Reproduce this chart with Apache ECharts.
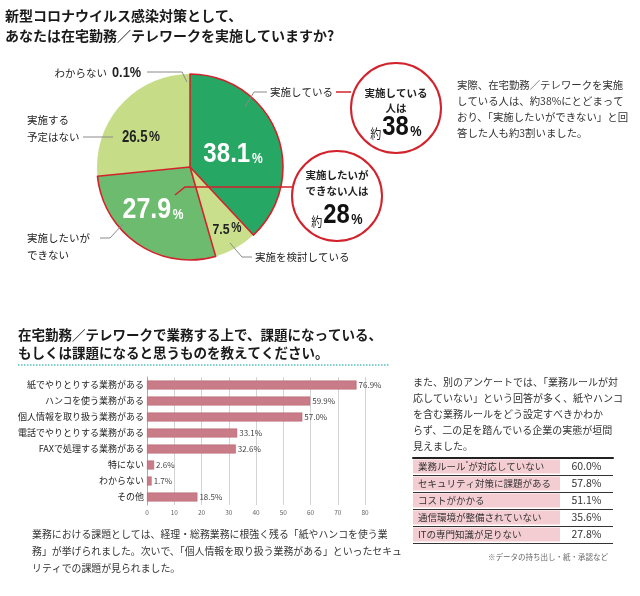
<!DOCTYPE html>
<html><head><meta charset="utf-8">
<script src="https://cdn.jsdelivr.net/npm/echarts@6/dist/echarts.min.js"></script>
<style>html,body{margin:0;padding:0;background:#fff}#c{width:640px;height:596px}</style>
</head><body><div id="c"></div>
<script>
// ---- data ----
const pieNames = ['実施している','実施を検討している','実施したいができない','実施する予定はない','わからない'];
const pieValues = [38.1, 7.5, 27.9, 26.5, 0.1];
const pieColors = ['#27a764','#cadf8c','#6dbb6f','#c6dc86','#eef3dc'];
const pieHighlighted = [true,false,true,false,false];

const barCategories = ['紙でやりとりする業務がある','ハンコを使う業務がある','個人情報を取り扱う業務がある','電話でやりとりする業務がある','FAXで処理する業務がある','特にない','わからない','その他'];
const barValues = [76.9, 59.9, 57.0, 33.1, 32.6, 2.6, 1.7, 18.5];
const barAxisTicks = [0,10,20,30,40,50,60,70,80];

const tableNames = ['業務ルール※が対応していない','セキュリティ対策に課題がある','コストがかかる','通信環境が整備されていない','ITの専門知識が足りない'];
const tableValues = [60.0, 57.8, 51.1, 35.6, 27.8];

const title1 = ['新型コロナウイルス感染対策として、','あなたは在宅勤務／テレワークを実施していますか?'];
const title2 = ['在宅勤務／テレワークで業務する上で、課題になっている、','もしくは課題になると思うものを教えてください。'];
const note1 = ['実際、在宅勤務／テレワークを実施','している人は、約38%にとどまって','おり、「実施したいができない」と回','答した人も約3割いました。'];
const note2 = ['また、別のアンケートでは、「業務ルールが対','応していない」という回答が多く、紙やハンコ','を含む業務ルールをどう設定すべきかわか','らず、二の足を踏んでいる企業の実態が垣間','見えました。'];
const note3 = ['業務における課題としては、経理・総務業務に根強く残る「紙やハンコを使う業','務」が挙げられました。次いで、「個人情報を取り扱う業務がある」といったセキュ','リティでの課題が見られました。'];
const footnote = '※データの持ち出し・紙・承認など';

// ---- rendering ----
const JP = "'Noto Sans CJK JP','Noto Sans',sans-serif";
const NUM = "'Liberation Sans','Arial',sans-serif";
const RED = '#d2232c';
const GRAY = '#8a8a8a';

const chart = echarts.init(document.getElementById('c'), null, {renderer:'canvas'});
const g = [];
function txt(x, y, text, fs, opts, extra) {
  opts = opts || {};
  g.push(Object.assign({type:'text', x:x, y:y, silent:true, z:100, style:Object.assign({
    text:text, fontSize:fs, fontFamily:JP, fill:'#222', align:'left', verticalAlign:'middle'
  }, opts)}, extra || {}));
}
function line(points, color, w, dash) {
  g.push({type:'polyline', silent:true, z:90, shape:{points:points},
    style:{stroke:color, lineWidth:w||1, fill:null, lineDash:dash||null}});
}
title1.forEach((t,i)=>txt(5, 16+i*20, t, 14, {fontWeight:'bold', fill:'#1a1a1a'}));
title2.forEach((t,i)=>txt(18, 335+i*17.5, t, 13.5, {fontWeight:'bold', fill:'#1a1a1a'}));
line([[18,365],[390,365]], '#55bfc2', 1.5, [1.5,1.5]);
note1.forEach((t,i)=>txt(457, 85+i*16, t, 10.4, {fill:'#333'}));
note2.forEach((t,i)=>txt(413, 382+i*16, t, 10, {fill:'#333'}));
note3.forEach((t,i)=>txt(32, 534+i*17, t, 9.9, {fill:'#333'}));
txt(608, 557, footnote, 7.5, {align:'right', fill:'#666'});

// pie percent labels (condensed look via horizontal scale)
const pct = v => v.toFixed(1);
function bigPct(x, y, v, big, small, color, sx) {
  txt(x, y, '{a|'+v+'}{b|%}', big, {align:'center', fill:color, rich:{
    a:{fontSize:big, fontFamily:NUM, fontWeight:'bold', fill:color, verticalAlign:'bottom', lineHeight:big},
    b:{fontSize:small, fontFamily:NUM, fontWeight:'bold', fill:color, verticalAlign:'bottom', lineHeight:big, padding:[0,0,2,2]}
  }}, {scaleX:sx});
}
bigPct(233, 154, pct(pieValues[0]), 28, 14, '#fff', 0.86);
bigPct(153, 210, pct(pieValues[2]), 29, 14, '#fff', 0.86);
bigPct(141, 138, pct(pieValues[3]), 16, 15, '#222', 0.82);
bigPct(227, 230, pct(pieValues[1]), 15, 14, '#222', 0.82);
txt(107, 73, pieNames[4], 10.5, {align:'right'});
txt(112, 73, pct(pieValues[4])+'%', 15, {fontFamily:NUM, fontWeight:'bold'}, {scaleX:0.85});
// outer labels
txt(27, 120, '実施する', 10.5); txt(27, 137, '予定はない', 10.5);
txt(27, 238, '実施したいが', 10.5); txt(27, 255, 'できない', 10.5);
txt(270, 92, pieNames[0], 10.5);
txt(255, 257, pieNames[1], 10.5);
// leader lines
line([[147,72],[182,72],[187,82]], GRAY, 1);
line([[83,137],[113,137]], GRAY, 1);
line([[100,238],[110,238],[123,224]], GRAY, 1);
line([[245,107],[254,92],[267,92]], GRAY, 1);
line([[230,243],[242,257],[252,257]], GRAY, 1);
line([[336,92],[351,92]], RED, 1.5);
line([[175,195],[185,187],[293,187]], RED, 1.5);
// callout circles
g.push({type:'circle', silent:true, z:95, shape:{cx:396, cy:108, r:45}, style:{fill:'#fff', stroke:RED, lineWidth:2}});
g.push({type:'circle', silent:true, z:95, shape:{cx:337, cy:196, r:45}, style:{fill:'#fff', stroke:RED, lineWidth:2}});
function approx(x, y, v) {
  txt(x, y, '{a|約}{b|'+v+'}{c|%}', 24, {align:'center', rich:{
    a:{fontSize:13, fontFamily:JP, fill:'#222', verticalAlign:'bottom', lineHeight:24, padding:[0,1,1,0]},
    b:{fontSize:28, fontFamily:NUM, fontWeight:'bold', fill:'#111', verticalAlign:'bottom', lineHeight:24},
    c:{fontSize:15, fontFamily:NUM, fontWeight:'bold', fill:'#111', verticalAlign:'bottom', lineHeight:24, padding:[0,0,2,2]}
  }}, {scaleX:0.85});
}
txt(396, 93, '実施している', 10.5, {align:'center', fontWeight:'bold'});
txt(396, 108, '人は', 10.5, {align:'center', fontWeight:'bold'});
approx(396, 129, Math.round(pieValues[0]));
txt(337, 175, '実施したいが', 10.5, {align:'center', fontWeight:'bold'});
txt(337, 191, 'できない人は', 10.5, {align:'center', fontWeight:'bold'});
approx(337, 217, Math.round(pieValues[2]));

const pieData = pieValues.map((v,i)=>({name:pieNames[i], value:v, itemStyle:{color:pieColors[i]}}));
const pieOverlay = pieValues.map((v,i)=>({name:pieNames[i], value:v, itemStyle:{
  color:'rgba(0,0,0,0)', borderColor: pieHighlighted[i]?RED:'rgba(0,0,0,0)', borderWidth: pieHighlighted[i]?1.6:0}}));

const tableRich = {a:{fontSize:9.5, fontFamily:JP, color:'#333'}, s:{fontSize:6, fontFamily:JP, color:'#333', verticalAlign:'top', padding:[0,0,5,0]}};
function tableLabel(s){ return s.indexOf('※')>=0 ? s.split('※').map(p=>'{a|'+p+'}').join('{s|*}') : '{a|'+s+'}'; }

const option = {
  animation:false,
  backgroundColor:'#fff',
  grid:[
    {left:147, right:275, top:377, bottom:91, outerBoundsMode:'none', containLabel:false},
    {left:413, right:80, top:458, bottom:53, outerBoundsMode:'none', containLabel:false},
    {left:560, right:27, top:458, bottom:53, outerBoundsMode:'none', containLabel:false}
  ],
  xAxis:[
    {gridIndex:0, type:'value', min:barAxisTicks[0], max:barAxisTicks[barAxisTicks.length-1], interval:barAxisTicks[1]-barAxisTicks[0],
      axisLine:{show:false}, axisTick:{show:false},
      axisLabel:{fontSize:6.5, color:'#666', margin:4, fontFamily:JP},
      splitLine:{lineStyle:{color:'#d4d4d4', width:1}}},
    {gridIndex:1, type:'value', min:0, max:1, position:'top', z:5, axisLine:{show:true, lineStyle:{color:'#222', width:2}}, axisTick:{show:false}, axisLabel:{show:false}, splitLine:{show:false}},
    {gridIndex:2, type:'value', min:0, max:1, position:'top', z:5, axisLine:{show:true, lineStyle:{color:'#222', width:2}}, axisTick:{show:false}, axisLabel:{show:false}, splitLine:{show:false}}
  ],
  yAxis:[
    {gridIndex:0, type:'category', inverse:true, data:barCategories,
      axisLine:{show:true, lineStyle:{color:'#aaa'}}, axisTick:{show:false},
      axisLabel:{fontSize:9, color:'#222', margin:3, interval:0, fontFamily:JP}},
    {gridIndex:1, type:'category', inverse:true, data:tableNames, z:5,
      axisLine:{show:false}, axisTick:{show:false},
      axisLabel:{inside:true, margin:5, interval:0, formatter:tableLabel, rich:tableRich},
      splitLine:{show:true, interval:0, lineStyle:{color:'#333', width:1}}},
    {gridIndex:2, type:'category', inverse:true, data:tableNames, z:5,
      axisLine:{show:false}, axisTick:{show:false}, axisLabel:{show:false},
      splitLine:{show:true, interval:0, lineStyle:{color:'#333', width:1}}}
  ],
  series:[
    {type:'pie', center:[190,167], radius:[0,93], startAngle:90, clockwise:true, silent:true,
      label:{show:false}, labelLine:{show:false}, emphasis:{disabled:true}, data:pieData, z:2},
    {type:'pie', center:[190,167], radius:[0,93], startAngle:90, clockwise:true, silent:true,
      label:{show:false}, labelLine:{show:false}, emphasis:{disabled:true}, data:pieOverlay, z:3},
    {type:'bar', xAxisIndex:0, yAxisIndex:0, data:barValues, barWidth:9, silent:true,
      itemStyle:{color:'#c97b87', borderColor:'#b4636f', borderWidth:0.5},
      label:{show:true, position:'right', distance:2, fontSize:8, color:'#444', fontFamily:JP,
        formatter:p=>p.value.toFixed(1)+'%'}},
    {type:'bar', xAxisIndex:1, yAxisIndex:1, data:tableValues.map(()=>1), barCategoryGap:'18%', silent:true, z:1,
      itemStyle:{color:'#f4cdd2'}},
    {type:'bar', xAxisIndex:2, yAxisIndex:2, data:tableValues.map(()=>1), barCategoryGap:'18%', silent:true, z:1,
      itemStyle:{color:'rgba(0,0,0,0)'},
      label:{show:true, position:'inside', fontSize:10.5, color:'#333', fontFamily:JP,
        formatter:p=>tableValues[p.dataIndex].toFixed(1)+'%'}}
  ],
  graphic:g
};
chart.setOption(option);
</script></body></html>
